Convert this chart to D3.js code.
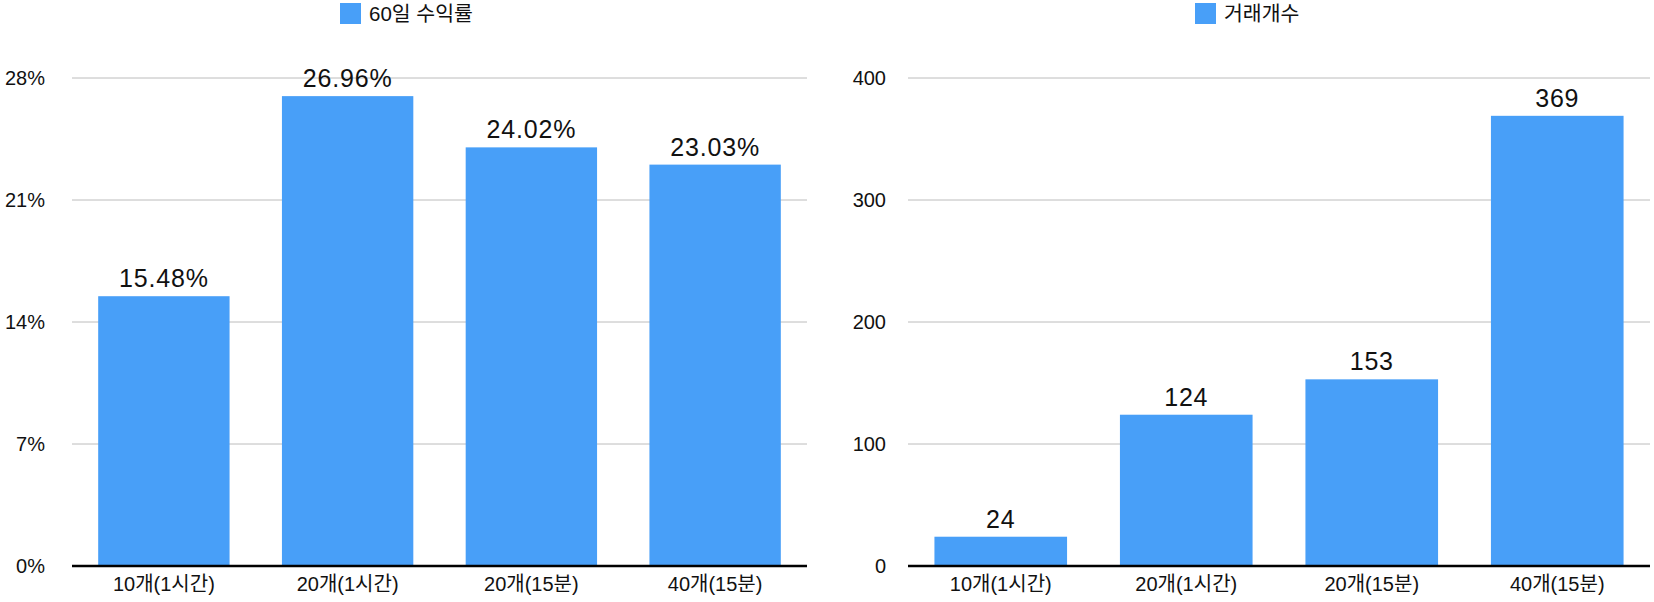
<!DOCTYPE html>
<html><head><meta charset="utf-8">
<script src="https://cdn.jsdelivr.net/npm/d3@7"></script>
<style>body{margin:0;background:#fff}svg{display:block}</style>
</head><body>
<svg id="c" width="1654" height="602"></svg>
<script>
const categories = ["10개(1시간)", "20개(1시간)", "20개(15분)", "40개(15분)"];
const returnValues = [15.48, 26.96, 24.02, 23.03];
const tradeCounts = [24, 124, 153, 369];
const returnTicks = [0, 7, 14, 21, 28];
const countTicks = [0, 100, 200, 300, 400];
const returnLegend = "60일 수익률";
const countLegend = "거래개수";

const svg = d3.select("#c");
const color = "#489ff8";
const font = "'Liberation Sans', Arial, 'Noto Sans CJK KR', sans-serif";

function panel(opts){
  const g = svg.append("g");
  const x = d3.scaleBand().domain(categories).range([opts.x0, opts.x1]).paddingInner(0.285).paddingOuter(0.1425);
  const y = d3.scaleLinear().domain([0, opts.max]).range([566, 78]);
  g.selectAll("line.grid").data(opts.ticks.filter(t=>t>0)).join("line")
    .attr("x1", opts.x0).attr("x2", opts.x1)
    .attr("y1", d=>y(d)).attr("y2", d=>y(d))
    .attr("stroke", "#bcbcbc").attr("stroke-width", 1);
  const yAxis = d3.axisLeft(y).tickValues(opts.ticks).tickSize(0).tickPadding(0).tickFormat(opts.tickFmt);
  const ya = g.append("g").attr("transform", `translate(${opts.x0 - opts.labelGap},0)`).call(yAxis);
  ya.select(".domain").remove();
  ya.selectAll("text").attr("font-family", font).attr("font-size", 20).attr("fill", "#111");
  g.selectAll("rect.bar").data(opts.values).join("rect")
    .attr("x", (d,i)=>x(categories[i])).attr("width", x.bandwidth())
    .attr("y", d=>y(d)).attr("height", d=>y(0)-y(d)).attr("fill", color);
  g.selectAll("text.val").data(opts.values).join("text")
    .attr("x", (d,i)=>x(categories[i]) + x.bandwidth()/2)
    .attr("y", d=>y(d) - 9)
    .attr("text-anchor", "middle").attr("font-family", font).attr("font-size", 25)
    .attr("letter-spacing", 0.8).attr("fill", "#111")
    .text(opts.valFmt);
  g.append("line").attr("x1", opts.x0).attr("x2", opts.x1).attr("y1", y(0)).attr("y2", y(0))
    .attr("stroke", "#000").attr("stroke-width", 2.5);
  const xAxis = d3.axisBottom(x).tickSize(0).tickPadding(0);
  const xa = g.append("g").attr("transform", `translate(0,${y(0)+11})`).call(xAxis);
  xa.select(".domain").remove();
  xa.selectAll("text").attr("font-family", font).attr("font-size", 20).attr("fill", "#111");
  const lg = g.append("g");
  lg.append("rect").attr("x", opts.legX).attr("y", 3).attr("width", 21).attr("height", 21).attr("fill", color);
  lg.append("text").attr("x", opts.legX + 29).attr("y", 21).attr("font-family", font).attr("font-size", 20.5)
    .attr("fill", "#111").text(opts.legend);
}

panel({x0:72, x1:807, max:28, ticks:returnTicks, tickFmt:d=>d+"%", values:returnValues,
  valFmt:d=>d.toFixed(2)+"%", legend:returnLegend, legX:340, labelGap:27});
panel({x0:908, x1:1650, max:400, ticks:countTicks, tickFmt:d=>d, values:tradeCounts,
  valFmt:d=>d, legend:countLegend, legX:1195, labelGap:22});
</script>
</body></html>
